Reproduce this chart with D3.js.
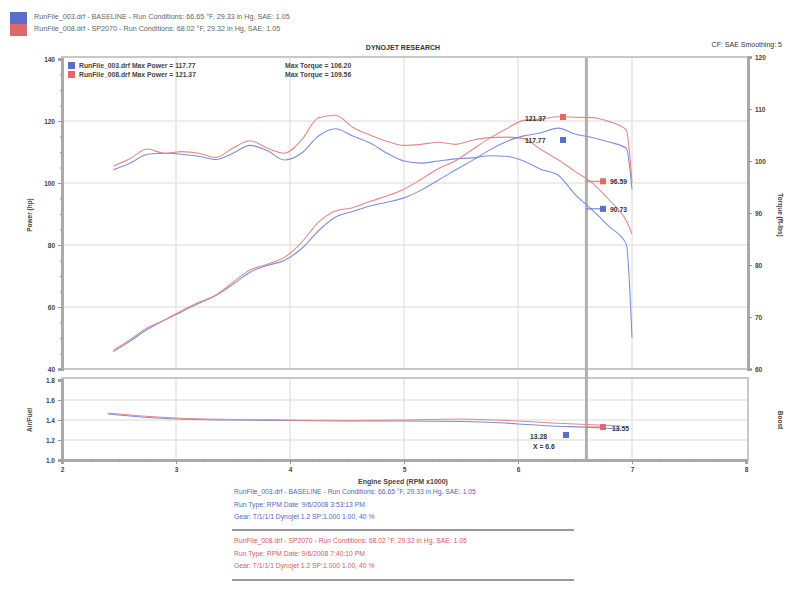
<!DOCTYPE html>
<html><head><meta charset="utf-8">
<script src="https://cdn.jsdelivr.net/npm/d3@7"></script>
<style>
body{margin:0;background:#fff;}
svg{font-family:"Liberation Sans",Arial,sans-serif;}
</style></head>
<body><svg id="c" width="800" height="601"></svg>
<script>
// ---- data ----
const rpm = [2.45,2.6,2.75,2.9,3.05,3.2,3.35,3.5,3.65,3.8,3.95,4.1,4.25,4.4,4.55,4.7,4.85,5.0,5.15,5.3,5.45,5.6,5.75,5.9,6.05,6.2,6.35,6.5,6.65,6.8,6.95,7.0];
const powerBase = [45.6,49.0,52.8,55.8,58.5,61.2,63.7,67.3,71.2,73.4,75.0,78.8,84.6,89.0,90.8,92.6,93.8,95.2,97.7,100.9,104.2,107.3,110.6,113.4,115.2,116.2,117.7,115.8,114.7,113.2,111.2,98.0];
const powerMod  = [46.0,49.5,53.3,55.8,58.8,61.5,63.9,68.0,71.9,73.8,76.0,80.8,87.4,91.0,92.0,94.0,95.8,98.0,101.2,104.6,107.1,110.8,114.4,117.5,120.2,120.6,121.37,121.2,121.1,119.8,117.1,100.0];
const torqueBase = [98.3,99.6,101.3,101.5,101.3,100.9,100.3,101.5,103.0,102.0,100.2,101.5,104.8,106.2,104.8,103.5,101.5,100.0,99.6,100.0,100.4,100.6,101.0,100.9,100.0,98.4,97.3,93.6,90.6,87.4,84.0,66.0];
const torqueMod  = [99.0,100.5,102.3,101.5,101.8,101.5,100.7,102.5,103.9,102.5,101.5,104.0,108.3,108.8,106.5,105.0,103.8,103.0,103.2,103.6,103.2,104.0,104.5,104.6,104.3,102.2,100.3,98.0,95.8,92.5,88.5,86.0];
const afrRpm  = [2.4,2.7,3.0,3.5,4.0,4.5,5.0,5.5,5.8,6.0,6.3,6.6,6.9];
const afrBase = [14.6,14.3,14.1,14.0,13.95,13.9,13.9,13.85,13.75,13.6,13.4,13.28,13.1];
const afrMod  = [14.7,14.4,14.2,14.05,14.0,13.95,14.0,14.1,14.0,13.9,13.7,13.55,13.4];
const xTicks = [2,3,4,5,6,7,8];
const powerTicks = [40,60,80,100,120,140];
const torqueTicks = [60,70,80,90,100,110,120];
const afrTicks = [10,12,14,16,18];
const afrTickLabels = ["1.0","1.2","1.4","1.6","1.8"];
const cursorRpm = 6.6;
const headerLines = [
  "RunFile_003.drf - BASELINE  -  Run Conditions: 66.65 °F, 29.33 in Hg, SAE: 1.05",
  "RunFile_008.drf - SP2070  -  Run Conditions: 68.02 °F, 29.32 in Hg, SAE: 1.05"];
const legendLines = [
  ["RunFile_003.drf Max Power = 117.77","Max Torque = 106.20"],
  ["RunFile_008.drf Max Power = 121.37","Max Torque = 109.56"]];
const infoBase = ["RunFile_003.drf - BASELINE  -  Run Conditions: 66.65 °F, 29.33 in Hg, SAE: 1.05",
  "Run Type: RPM  Date: 9/6/2008 3:53:13 PM",
  "Gear: T/1/1/1 Dynojet 1.2 SP:1.000  1.00, 40 %"];
const infoMod = ["RunFile_008.drf - SP2070  -  Run Conditions: 68.02 °F, 29.32 in Hg, SAE: 1.05",
  "Run Type: RPM  Date: 9/6/2008 7:40:10 PM",
  "Gear: T/1/1/1 Dynojet 1.2 SP:1.000  1.00, 40 %"];

const BLUE="#7b90da", RED="#e48888", BLUE_T="#5068c4", RED_T="#d85a5a";

const svg = d3.select("#c");
const x = d3.scaleLinear([2,8],[62,746]);
const yP = d3.scaleLinear([40,140],[369,59]);
const yT = d3.scaleLinear([60,120],[369,57]);
const yA = d3.scaleLinear([10,18],[460,380]);

// header
svg.append("rect").attr("x",10).attr("y",12).attr("width",17).attr("height",12).attr("fill","#5a6fc8");
svg.append("rect").attr("x",10).attr("y",24).attr("width",17).attr("height",12).attr("fill","#e06868");
headerLines.forEach((t,i)=>svg.append("text").attr("x",34).attr("y",19+i*12).attr("font-size",7.2)
  .attr("fill","#666").text(t));
svg.append("text").attr("x",403).attr("y",50).attr("text-anchor","middle").attr("font-size",7)
  .attr("font-weight","bold").attr("fill","#333").text("DYNOJET RESEARCH");
svg.append("text").attr("x",782).attr("y",47).attr("text-anchor","end").attr("font-size",7)
  .attr("fill","#333").text("CF: SAE  Smoothing: 5");

// panels
svg.append("rect").attr("x",62).attr("y",57).attr("width",686).attr("height",312)
  .attr("fill","#fff").attr("stroke","#c8c8c8").attr("stroke-width",2);
svg.append("rect").attr("x",62).attr("y",378).attr("width",686).attr("height",82)
  .attr("fill","#fff").attr("stroke","#c8c8c8").attr("stroke-width",2);

// grid
const grid = svg.append("g").attr("stroke","#e6e6e6").attr("stroke-width",1.5);
xTicks.slice(1,-1).forEach(v=>{
  grid.append("line").attr("x1",x(v)).attr("x2",x(v)).attr("y1",58).attr("y2",368);
  grid.append("line").attr("x1",x(v)).attr("x2",x(v)).attr("y1",379).attr("y2",459);
});
powerTicks.slice(1,-1).forEach(v=>grid.append("line").attr("x1",63).attr("x2",747).attr("y1",yP(v)).attr("y2",yP(v)));
afrTicks.slice(1,-1).forEach(v=>grid.append("line").attr("x1",63).attr("x2",747).attr("y1",yA(v)).attr("y2",yA(v)));

// axes
function styleAxis(g){g.selectAll("path").attr("stroke","#aaa").attr("stroke-width",3);
  g.selectAll("line").attr("stroke","#999");
  g.selectAll("text").attr("font-size",6.5).attr("font-weight","bold").attr("fill","#444");}
svg.append("g").attr("transform","translate(62,0)")
  .call(d3.axisLeft(yP).tickValues(powerTicks).tickSize(4).tickFormat(d3.format("d"))).call(styleAxis);
svg.append("g").attr("transform","translate(62,0)")
  .call(d3.axisLeft(yP).tickValues(d3.range(40,141,5)).tickSize(2).tickFormat("")).call(styleAxis);
svg.append("g").attr("transform","translate(748,0)")
  .call(d3.axisRight(yT).tickValues(torqueTicks).tickSize(4).tickFormat(d3.format("d"))).call(styleAxis);
svg.append("g").attr("transform","translate(748,0)")
  .call(d3.axisRight(yT).tickValues(d3.range(60,121,2)).tickSize(2).tickFormat("")).call(styleAxis);
svg.append("g").attr("transform","translate(62,0)")
  .call(d3.axisLeft(yA).tickValues(afrTicks).tickSize(4).tickFormat((d,i)=>afrTickLabels[i])).call(styleAxis);
svg.append("g").attr("transform","translate(0,460)")
  .call(d3.axisBottom(x).tickValues(xTicks).tickSize(4).tickFormat(d3.format("d"))).call(styleAxis);
svg.append("g").attr("transform","translate(0,460)")
  .call(d3.axisBottom(x).tickValues(d3.range(2,8.01,0.25)).tickSize(2).tickFormat("")).call(styleAxis);

// axis titles
function vText(xp,yp,t,rot){svg.append("text").attr("transform",`translate(${xp},${yp}) rotate(${rot})`)
  .attr("text-anchor","middle").attr("font-size",6.5).attr("font-weight","bold").attr("fill","#444").text(t);}
vText(32,215,"Power (hp)",-90);
vText(32,420,"Air/Fuel",-90);
vText(778,215,"Torque (ft-lbs)",90);
vText(778,420,"Boost",90);
svg.append("text").attr("x",403).attr("y",484).attr("text-anchor","middle").attr("font-size",7)
  .attr("font-weight","bold").attr("fill","#444").text("Engine Speed (RPM x1000)");

// cursor
svg.append("line").attr("x1",x(cursorRpm)).attr("x2",x(cursorRpm)).attr("y1",58).attr("y2",459)
  .attr("stroke","#b0b0b0").attr("stroke-width",3);

// curves
const lineP = d3.line().x((d,i)=>x(rpm[i])).y(d=>yP(d)).curve(d3.curveMonotoneX);
const lineT = d3.line().x((d,i)=>x(rpm[i])).y(d=>yT(d)).curve(d3.curveMonotoneX);
const lineA = d3.line().x((d,i)=>x(afrRpm[i])).y(d=>yA(d)).curve(d3.curveMonotoneX);
[[torqueBase,lineT,BLUE],[torqueMod,lineT,RED],[powerBase,lineP,BLUE],[powerMod,lineP,RED],
 [afrBase,lineA,BLUE],[afrMod,lineA,RED]].forEach(([d,l,c])=>
  svg.append("path").datum(d).attr("d",l).attr("fill","none").attr("stroke",c).attr("stroke-width",1.1));

// legend
legendLines.forEach((r,i)=>{
  const yy=68+i*9;
  svg.append("rect").attr("x",68).attr("y",yy-6).attr("width",7).attr("height",7).attr("fill",i?"#e06868":"#5a6fc8");
  svg.append("text").attr("x",79).attr("y",yy).attr("font-size",6.8).attr("font-weight","bold").attr("fill","#444").text(r[0]);
  svg.append("text").attr("x",285).attr("y",yy).attr("font-size",6.8).attr("font-weight","bold").attr("fill","#444").text(r[1]);
});

// annotations
function ann(tx,ty,label,col,mx,my,lx){
  if(lx!==undefined) svg.append("line").attr("x1",lx).attr("x2",mx).attr("y1",my).attr("y2",my).attr("stroke",col).attr("stroke-width",1);
  svg.append("rect").attr("x",mx-3).attr("y",my-3).attr("width",6).attr("height",6).attr("fill",col);
  svg.append("text").attr("x",tx).attr("y",ty+2.5).attr("font-size",6.8).attr("font-weight","bold").attr("fill","#333").text(label);
}
ann(525,118,"121.37","#e06868",563,117);
ann(525,140,"117.77","#5a6fc8",563,140);
ann(610,181,"96.59","#e06868",603,yT(96.1),x(cursorRpm));
ann(610,209,"90.73","#5a6fc8",603,yT(90.8),x(cursorRpm));
ann(612,428,"13.55","#e06868",603,427,x(cursorRpm));
ann(530,436,"13.28","#5a6fc8",566,435);
svg.append("text").attr("x",533).attr("y",449).attr("font-size",6.8).attr("font-weight","bold").attr("fill","#333").text("X = 6.6");

// info block
infoBase.forEach((t,i)=>svg.append("text").attr("x",234).attr("y",494+i*12.5).attr("font-size",6.8).attr("fill",BLUE_T).text(t));
svg.append("line").attr("x1",232).attr("x2",574).attr("y1",530).attr("y2",530).attr("stroke","#999").attr("stroke-width",2);
infoMod.forEach((t,i)=>svg.append("text").attr("x",234).attr("y",543+i*12.5).attr("font-size",6.8).attr("fill",RED_T).text(t));
svg.append("line").attr("x1",232).attr("x2",574).attr("y1",580).attr("y2",580).attr("stroke","#999").attr("stroke-width",2);
</script></body></html>
